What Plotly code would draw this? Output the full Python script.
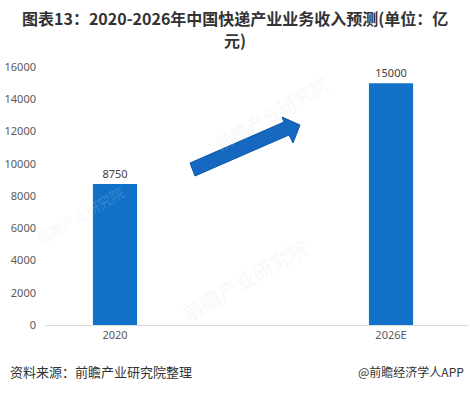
import plotly.graph_objects as go

categories = ["2020", "2026E"]
values = [8750, 15000]
y_ticks = [0, 2000, 4000, 6000, 8000, 10000, 12000, 14000, 16000]

W, H = 470, 393
L, R, T, B = 45, 2, 67, 68
pw, ph = W - L - R, H - T - B

def px(x, y):
    return (x - L) / pw, (H - B - y) / ph

fig = go.Figure()

# watermarks (drawn first, under everything)
for (wx, wy, s) in [(335, 68, 18), (245, 330, 20), (30, 215, 14)]:
    fx, fy = px(wx, wy)
    fig.add_annotation(x=fx, y=fy, xref="paper", yref="paper", text="前瞻产业研究院",
                       showarrow=False, textangle=-30,
                       font=dict(family="Noto Sans CJK SC", size=s, color="rgba(215,220,225,0.22)"))

fig.add_trace(go.Bar(
    x=[0, 1], y=values,
    width=0.16,
    marker=dict(color="#1170c8", line=dict(width=0)),
    text=[str(v) for v in values],
    textposition="outside",
    textfont=dict(family="Noto Sans, Open Sans, sans-serif", size=11, color="#404040"),
    cliponaxis=False,
))

# decorative arrow
pts = [(190, 163), (284, 122), (282, 117), (300, 125), (293, 143), (289, 135), (195, 176)]
path = "M " + " L ".join(f"{px(a, b)[0]:.4f},{px(a, b)[1]:.4f}" for a, b in pts) + " Z"
fig.add_shape(type="path", path=path, xref="paper", yref="paper",
              fillcolor="#1667c0", line=dict(color="#0f58a8", width=1), layer="above")

fig.update_layout(
    width=W, height=H,
    margin=dict(l=L, r=R, t=T, b=B),
    plot_bgcolor="white", paper_bgcolor="white",
    showlegend=False,
    xaxis=dict(
        range=[-0.2536, 1.279],
        tickmode="array", tickvals=[0, 1], ticktext=categories,
        showgrid=False, zeroline=False,
        showline=True, linecolor="#d9d9d9", linewidth=1,
        ticks="", tickfont=dict(family="Noto Sans, Open Sans, sans-serif", size=11, color="#595959"),
    ),
    yaxis=dict(
        range=[0, 16000],
        tickmode="array", tickvals=y_ticks, ticktext=[str(v) for v in y_ticks],
        showgrid=False, zeroline=False, showline=False, ticks="",
        ticklabelstandoff=8,
        tickfont=dict(family="Noto Sans, Open Sans, sans-serif", size=11, color="#595959"),
    ),
)

def note(x, y, text, anchor, size, bold=False):
    fx, fy = px(x, y)
    fig.add_annotation(x=fx, y=fy, xref="paper", yref="paper", xanchor=anchor, yanchor="middle",
                       text=f"<b>{text}</b>" if bold else text, showarrow=False,
                       font=dict(family="Noto Sans CJK SC", size=size, color="#333333"))

note(235, 18, "图表13：2020-2026年中国快递产业业务收入预测(单位：亿", "center", 16, True)
note(235, 40, "元)", "center", 16, True)
note(8, 372, "资料来源：前瞻产业研究院整理", "left", 13)
note(466, 372, "@前瞻经济学人APP", "right", 12)

fig.write_html("out.html")
